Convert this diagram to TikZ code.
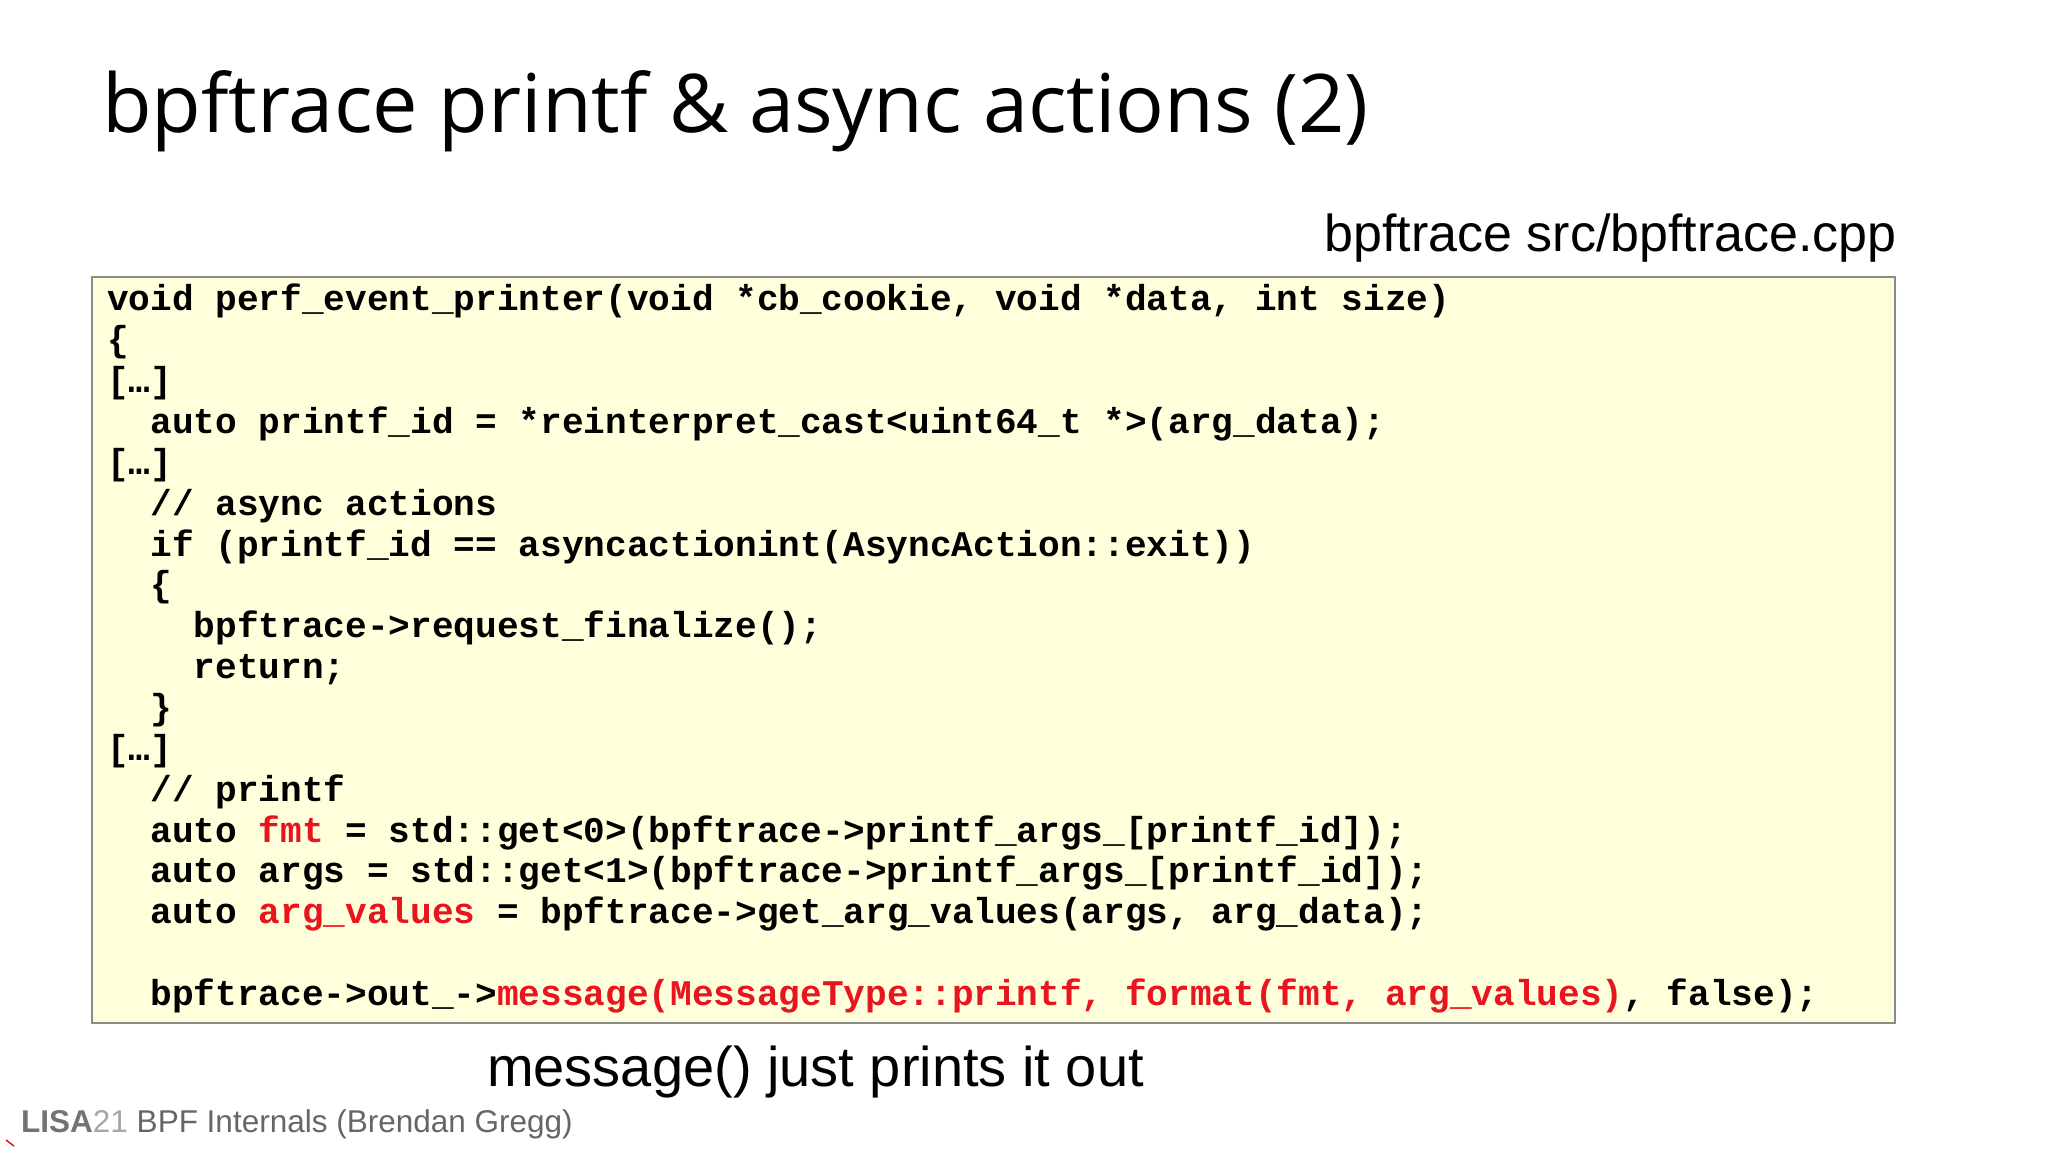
\documentclass[tikz,border=0pt]{standalone}
\usepackage{fontspec}
\setmainfont{Open Sans}
\newfontfamily\codefont{Liberation Mono}
\newfontfamily\lsans{Liberation Sans}
\definecolor{codebg}{HTML}{FFFFDC}
\definecolor{codered}{HTML}{E8141E}
\begin{document}
\begin{tikzpicture}[x=1pt,y=1pt,
  code/.style={anchor=base west,inner sep=0pt,font=\codefont\bfseries\fontsize{36.1}{40}\selectfont}]
\useasboundingbox (0,0) rectangle (2048,1152);
\fill[white] (0,0) rectangle (2048,1152);
\node[anchor=base west,inner sep=0pt,font=\fontsize{81}{90}\selectfont] (title) at (102,1152-133) {bpftrace printf \& async actions (2)};
\node[anchor=base east,inner sep=0pt,font=\lsans\fontsize{52}{56}\selectfont] (src) at (1897,1152-252) {bpftrace src/bpftrace.cpp};
\draw[fill=codebg,draw=black!45,line width=1.5] (92,1152-277) rectangle (1895,1152-1023);
\foreach \i/\t in {
0/{void perf\_event\_printer(void *cb\_cookie, void *data, int size)},
1/{\{},
2/{[…]},
3/{\ \ auto printf\_id = *reinterpret\_cast<uint64\_t *>(arg\_data);},
4/{[…]},
5/{\ \ // async actions},
6/{\ \ if (printf\_id == asyncactionint(AsyncAction::exit))},
7/{\ \ \{},
8/{\ \ \ \ bpftrace->request\_finalize();},
9/{\ \ \ \ return;},
10/{\ \ \}},
11/{[…]},
12/{\ \ // printf},
13/{\ \ auto \textcolor{codered}{fmt} = std::get<0>(bpftrace->printf\_args\_[printf\_id]);},
14/{\ \ auto args = std::get<1>(bpftrace->printf\_args\_[printf\_id]);},
15/{\ \ auto \textcolor{codered}{arg\_values} = bpftrace->get\_arg\_values(args, arg\_data);},
17/{\ \ bpftrace->out\_->\textcolor{codered}{message(MessageType::printf, format(fmt, arg\_values)}, false);}}
  \node[code] (l\i) at (107,1152-311-40.85*\i) {\t};
\node[anchor=base west,inner sep=0pt,font=\lsans\fontsize{56}{60}\selectfont] (msg) at (487,1152-1086) {message() just prints it out};
\node[anchor=base west,inner sep=0pt,font=\lsans\fontsize{31.5}{34}\selectfont] (foot) at (21,1152-1132) {\textcolor{black!55}{\bfseries LISA}\textcolor{black!35}{21} \textcolor{black!60}{BPF Internals (Brendan Gregg)}};
\draw[codered,line width=1.5] (6,1152-1140) -- (14,1152-1146);
\end{tikzpicture}
\end{document}
